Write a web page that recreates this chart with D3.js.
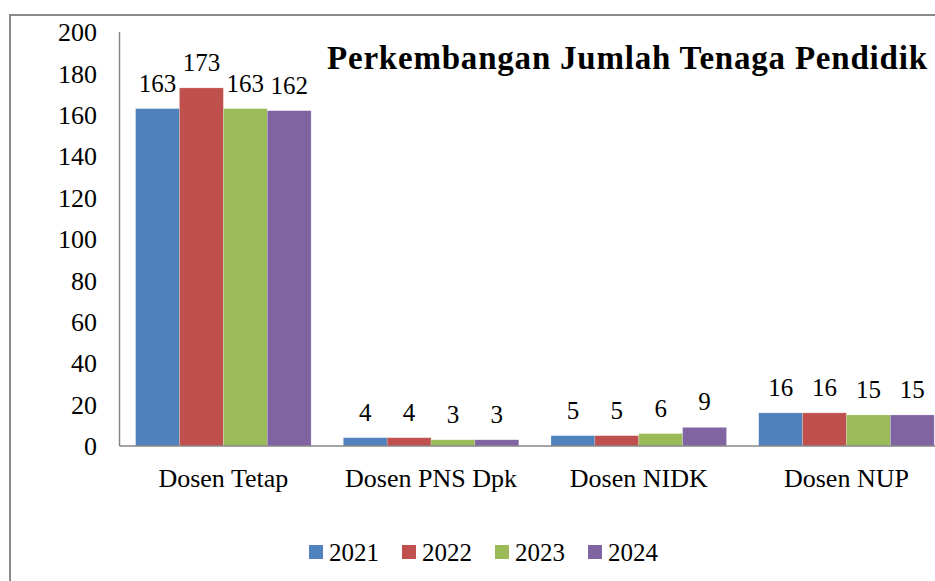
<!DOCTYPE html>
<html>
<head>
<meta charset="utf-8">
<script src="https://cdn.jsdelivr.net/npm/d3@7"></script>
<style>
  body { margin: 0; background: #fff; }
  svg { display: block; font-family: "Liberation Serif", "Times New Roman", serif; }
</style>
</head>
<body>
<svg id="chart" width="935" height="581"></svg>
<script>
var categories = ["Dosen Tetap", "Dosen PNS Dpk", "Dosen NIDK", "Dosen NUP"];
var years = ["2021", "2022", "2023", "2024"];
var values2021 = [163, 4, 5, 16];
var values2022 = [173, 4, 5, 16];
var values2023 = [163, 3, 6, 15];
var values2024 = [162, 3, 9, 15];
var yTicks = [0, 20, 40, 60, 80, 100, 120, 140, 160, 180, 200];
var colors = ["#4F81BD", "#C0504D", "#9BBB59", "#8064A2"];

var series = [values2021, values2022, values2023, values2024];
var data = categories.map(function (c, i) {
    return {cat: c, vals: years.map(function (y, j) { return {year: y, v: series[j][i], k: j}; })};
});

var svg = d3.select("#chart");

// outer chart border (runs off the right and bottom of the picture)
svg.append("rect")
    .attr("x", 10).attr("y", 15)
    .attr("width", 940).attr("height", 600)
    .attr("fill", "none")
    .attr("stroke", "#898989")
    .attr("stroke-width", 2);

var plotLeft = 119.5, plotRight = 950.3, plotTop = 32, plotBottom = 446;

var x0 = d3.scaleBand()
    .domain(categories)
    .range([plotLeft, plotRight])
    .paddingInner(0.155)
    .paddingOuter(0.0775);

var x1 = d3.scaleBand()
    .domain(years)
    .range([0, x0.bandwidth()]);

var y = d3.scaleLinear()
    .domain([0, 200])
    .range([plotBottom, plotTop]);

// y tick labels
svg.append("g")
    .selectAll("text")
    .data(yTicks)
    .enter()
    .append("text")
    .attr("x", 97)
    .attr("y", function (d) { return y(d); })
    .attr("dy", "0.35em")
    .attr("text-anchor", "end")
    .attr("font-size", 26)
    .attr("fill", "#000")
    .text(function (d) { return d; });

// bars
var groups = svg.append("g")
    .selectAll("g")
    .data(data)
    .enter()
    .append("g")
    .attr("transform", function (d) { return "translate(" + x0(d.cat) + ",0)"; });

groups.selectAll("rect")
    .data(function (d) { return d.vals; })
    .enter()
    .append("rect")
    .attr("x", function (d) { return x1(d.year); })
    .attr("y", function (d) { return y(d.v); })
    .attr("width", x1.bandwidth())
    .attr("height", function (d) { return y(0) - y(d.v); })
    .attr("fill", function (d) { return colors[d.k]; })
    .attr("stroke", "#fff")
    .attr("stroke-opacity", 0.35)
    .attr("stroke-width", 0.6);

groups.selectAll("text")
    .data(function (d) { return d.vals; })
    .enter()
    .append("text")
    .attr("x", function (d) { return x1(d.year) + x1.bandwidth() / 2; })
    .attr("y", function (d) { return y(d.v) - 17; })
    .attr("text-anchor", "middle")
    .attr("font-size", 25)
    .attr("fill", "#000")
    .text(function (d) { return d.v; });

// axes lines
svg.append("line")
    .attr("x1", plotLeft).attr("x2", plotLeft)
    .attr("y1", plotTop).attr("y2", plotBottom)
    .attr("stroke", "#868686").attr("stroke-width", 1.5);

svg.append("line")
    .attr("x1", plotLeft).attr("x2", plotRight)
    .attr("y1", plotBottom).attr("y2", plotBottom)
    .attr("stroke", "#868686").attr("stroke-width", 1.5);

// category labels
svg.append("g")
    .selectAll("text")
    .data(categories)
    .enter()
    .append("text")
    .attr("x", function (d) { return x0(d) + x0.bandwidth() / 2; })
    .attr("y", 487)
    .attr("text-anchor", "middle")
    .attr("font-size", 26)
    .attr("fill", "#000")
    .text(function (d) { return d; });

// title
svg.append("text")
    .attr("x", 327)
    .attr("y", 69)
    .attr("font-size", 33)
    .attr("font-weight", "bold")
    .attr("textLength", 600)
    .attr("lengthAdjust", "spacing")
    .attr("fill", "#000")
    .text("Perkembangan Jumlah Tenaga Pendidik");

// legend
var legend = svg.append("g")
    .selectAll("g")
    .data(years)
    .enter()
    .append("g")
    .attr("transform", function (d, i) { return "translate(" + (309 + i * 93) + ",545)"; });

legend.append("rect")
    .attr("width", 14).attr("height", 14)
    .attr("fill", function (d, i) { return colors[i]; });

legend.append("text")
    .attr("x", 20)
    .attr("y", 16)
    .attr("font-size", 25)
    .attr("fill", "#000")
    .text(function (d) { return d; });
</script>
</body>
</html>
